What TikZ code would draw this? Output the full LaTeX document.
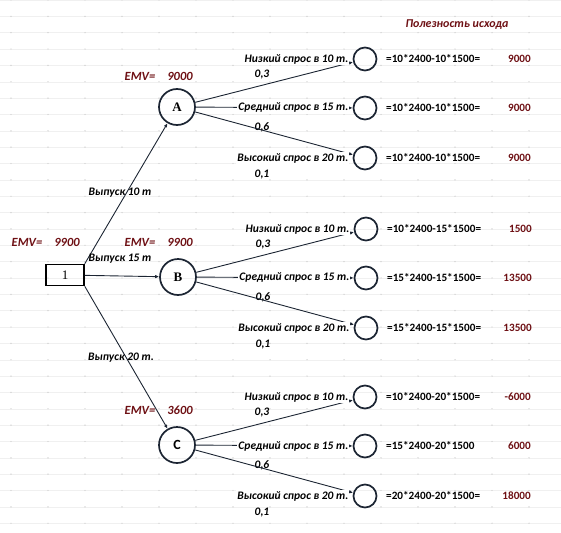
\documentclass[tikz,border=0pt]{standalone}
\usepackage{fontspec}
\setmainfont{Liberation Serif}
\newfontfamily\carl{Carlito}
\usetikzlibrary{arrows.meta, calc}
\definecolor{cnavy}{HTML}{1C2533}
\definecolor{cred}{HTML}{6E1014}
\tikzset{
  every picture/.style={x=1pt, y=-1pt},
  chance/.style={circle, draw=cnavy, line width=1.7pt, minimum size=36pt, inner sep=0pt, font=\bfseries\fontsize{13}{15}\selectfont},
  leaf/.style={circle, draw=cnavy, line width=1.7pt, minimum size=23pt, inner sep=0pt},
  decision/.style={draw=black, line width=1.5pt, minimum width=38pt, minimum height=21pt, inner sep=0pt, font=\fontsize{13}{15}\selectfont},
  branch/.style={-{Latex[length=4pt, width=3.5pt]}, draw=cnavy, line width=0.9pt},
  lbl/.style={font=\carl\bfseries\itshape\fontsize{11.5}{13}\selectfont, inner sep=1pt},
  emv/.style={lbl, text=cred, font=\carl\bfseries\itshape\fontsize{12.5}{14}\selectfont},
  formula/.style={font=\carl\bfseries\fontsize{11.2}{13}\selectfont, anchor=west, inner sep=0pt},
  payoff/.style={font=\carl\bfseries\fontsize{11.2}{13}\selectfont, text=cred, anchor=east, inner sep=0pt},
}

\begin{document}
\begin{tikzpicture}
  \useasboundingbox (0,0) rectangle (561,532);
  % spreadsheet grid
  \foreach \r in {0,...,32} {
    \draw[black!6, line width=0.4pt] (0,{\r*16.35}) -- (561,{\r*16.35});
    \foreach \c in {0,...,14}
      \fill[black!20] ({11+\c*37},{\r*16.35}) circle (0.7pt);
  }
  \node[lbl, text=cred, font=\carl\bfseries\itshape\fontsize{12}{14}\selectfont] (title) at (457,25) {Полезность исхода};
  % decision node and chance nodes
  \node[decision] (d) at (65,275) {1};
  \node[chance] (A) at (177,107) {A};
  \node[chance] (B) at (178,277) {B};
  \node[chance, font=\carl\bfseries\fontsize{14}{16}\selectfont] (C) at (177,445) {C};
  \draw[branch] (d.north east) -- (A);
  \draw[branch] (d) -- (B);
  \draw[branch] (d.south east) -- (C);
  \node[lbl] (v10) at (120,193) {Выпуск 10 т};
  \node[lbl] (v15) at (120,259) {Выпуск 15 т};
  \node[lbl] (v20) at (121,358) {Выпуск 20 т.};
  % EMV values
  \node[emv] (e0) at (27,242) {EMV=};
  \node[emv] (e0v) at (67,242) {9900};
  \foreach \p/\y/\val in {A/76/9000, B/242/9900, C/410/3600} {
    \node[emv] (e\p) at (140,\y) {EMV=};
    \node[emv] (e\p v) at (180,\y) {\val};
  }
  % outcome branches
  \foreach \p in {A,B,C} {
    \foreach \i/\dy/\txt/\pr/\py in {1/-48/{Низкий спрос в 10 т.}/{0,3}/-32, 2/1/{Средний спрос в 15 т.}/{0,6}/20, 3/51/{Высокий спрос в 20 т.}/{0,1}/68} {
      \node[leaf] (\p\i) at ($(\p)+(188,\dy)$) {};
      \draw[branch] (\p) -- (\p\i);
      \node[lbl, fill=white, anchor=east] (t\p\i) at ($(\p\i.west)+(-3,0)$) {\txt};
      \node[lbl] (q\p\i) at ($(\p)+(85,\py)$) {\pr};
    }
  }
  % outcome utilities
  \foreach \n/\fm/\val in {A1/{=10*2400-10*1500=}/9000, A2/{=10*2400-10*1500=}/9000, A3/{=10*2400-10*1500=}/9000,
      B1/{=10*2400-15*1500=}/1500, B2/{=15*2400-15*1500=}/13500, B3/{=15*2400-15*1500=}/13500,
      C1/{=10*2400-20*1500=}/-6000, C2/{=15*2400-20*1500}/6000, C3/{=20*2400-20*1500=}/18000} {
    \node[formula] (f\n) at ($(\n)+(21,0)$) {\fm};
    \node[payoff] (u\n) at ($(\n)+(166,0)$) {\val};
  }
\end{tikzpicture}
\end{document}
